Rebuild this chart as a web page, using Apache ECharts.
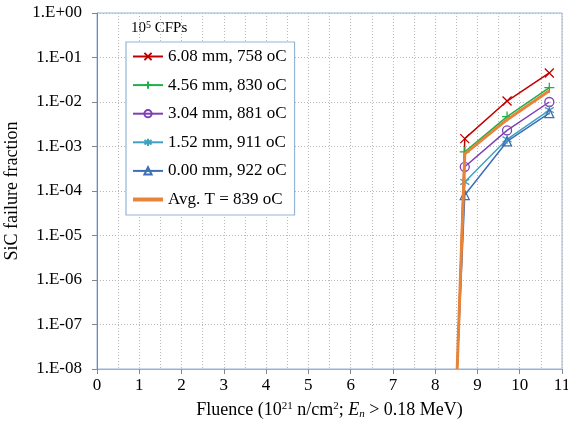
<!DOCTYPE html>
<html>
<head>
<meta charset="utf-8">
<script src="https://cdn.jsdelivr.net/npm/echarts@6/dist/echarts.min.js"></script>
<style>
  html, body { margin: 0; padding: 0; background: #fff; }
  #main { width: 568px; height: 431px; }
</style>
</head>
<body>
<div id="main"></div>
<script>
// fluence values (10^21 n/cm2), first point is where the curves leave the axis
var fluence = [8.52, 8.7, 9.7, 10.7];

var names = ['6.08 mm, 758 oC', '4.56 mm, 830 oC', '3.04 mm, 881 oC',
             '1.52 mm, 911 oC', '0.00 mm, 922 oC', 'Avg. T = 839 oC'];

// failure fractions
var r608 = [1e-8, 1.5e-3, 1.05e-2, 4.5e-2];
var r456 = [1e-8, 7.6e-4, 4.7e-3, 2.1e-2];
var r304 = [1e-8, 3.5e-4, 2.3e-3, 1.0e-2];
var r152 = [1e-8, 1.6e-4, 1.45e-3, 6.6e-3];
var r000 = [1e-8, 8.1e-5, 1.3e-3, 5.6e-3];
var rAvg = [1e-8, 6.8e-4, 4.0e-3, 1.8e-2];

var yTicks = ['1.E-08', '1.E-07', '1.E-06', '1.E-05', '1.E-04', '1.E-03', '1.E-02', '1.E-01', '1.E+00'];

var FONT = '"Liberation Serif", "Times New Roman", serif';

var toData = function(vals) {
    return vals.map(function(v, i) {
        var d = { value: [fluence[i], v] };
        if (i == 0) d.symbol = 'none';
        return d;
    });
}

var mk = function(name, vals, color, symbol, size) {
    return {
        name: name,
        type: 'line',
        data: toData(vals),
        symbol: symbol,
        symbolSize: size,
        showAllSymbol: true,
        lineStyle: { color: color, width: 1.5 },
        itemStyle: { color: 'rgba(0,0,0,0)', borderColor: color, borderWidth: 1.3 },
        emphasis: { disabled: true },
        z: 3
    };
}

var legendData = names.map(function(n, i) {
    if (i == 5) return { name: n, itemStyle: { opacity: 0 }, lineStyle: { width: 4 } };
    return { name: n };
});

var myChart = echarts.init(document.getElementById('main'));

option = {
    animation: false,
    textStyle: { fontFamily: FONT },
    grid: {
        left: 97, right: 6, top: 13, bottom: 62,
        outerBoundsMode: 'none',
        show: true, borderColor: '#95B3D7', borderWidth: 1
    },
    graphic: [{
        type: 'text',
        left: 131, top: 20,
        style: {
            text: '{a|10}{s|5}{a| CFPs}',
            rich: {
                a: { fontFamily: FONT, fontSize: 15, fill: '#000' },
                s: { fontFamily: FONT, fontSize: 10, fill: '#000', verticalAlign: 'top', padding: [0, 0, 6, 0] }
            }
        }
    }],
    legend: {
        orient: 'vertical',
        left: 126, top: 42,
        padding: [6, 8, 7, 5],
        itemWidth: 30, itemHeight: 9, itemGap: 11.6,
        backgroundColor: '#fff',
        borderColor: '#95B3D7', borderWidth: 1.2,
        textStyle: { fontFamily: FONT, fontSize: 17, color: '#000', lineHeight: 17 },
        data: legendData
    },
    xAxis: {
        type: 'value',
        min: 0, max: 11, interval: 1,
        name: '{a|Fluence (10}{s|21}{a| n/cm}{s|2}{a|; }{i|E}{b|n}{a| > 0.18 MeV)}',
        nameLocation: 'middle',
        nameGap: 32,
        nameTextStyle: {
            rich: {
                a: { fontFamily: FONT, fontSize: 18, color: '#000' },
                i: { fontFamily: FONT, fontSize: 18, color: '#000', fontStyle: 'italic' },
                s: { fontFamily: FONT, fontSize: 11, color: '#000', verticalAlign: 'top', padding: [0, 0, 8, 0] },
                b: { fontFamily: FONT, fontSize: 11, color: '#000', fontStyle: 'italic', verticalAlign: 'bottom', padding: [6, 0, 0, 0] }
            }
        },
        axisLine: { show: true, onZero: false, lineStyle: { color: '#95B3D7' } },
        axisTick: { show: true, length: 5, lineStyle: { color: '#868686' } },
        axisLabel: { fontFamily: FONT, fontSize: 17, color: '#000', margin: 8 },
        splitLine: { show: true, lineStyle: { color: '#b8b8b8', type: [1, 2], width: 1 } },
        minorTick: { show: false, splitNumber: 2 },
        minorSplitLine: { show: true, lineStyle: { color: '#b8b8b8', type: [1, 2], width: 1 } }
    },
    yAxis: {
        type: 'log',
        logBase: 10,
        min: 1e-8, max: 1,
        name: 'SiC failure fraction',
        nameLocation: 'middle',
        nameGap: 68,
        nameTextStyle: { fontFamily: FONT, fontSize: 18, color: '#000' },
        axisLine: { show: true, lineStyle: { color: '#868686' } },
        axisTick: { show: true, length: 5, lineStyle: { color: '#868686' } },
        axisLabel: {
            fontFamily: FONT, fontSize: 17, color: '#000', margin: 15,
            formatter: function(v) {
                var e = Math.round(Math.log10(v));
                return yTicks[e + 8];
            }
        },
        splitLine: { show: true, lineStyle: { color: '#b8b8b8', type: [1, 2], width: 1 } }
    },
    series: [
        mk(names[0], r608, '#C00000', 'path://M0,0L10,10M10,0L0,10', 9),
        mk(names[1], r456, '#1FB04B', 'path://M5,0L5,10M0,5L10,5', 10),
        mk(names[2], r304, '#7F3FB5', 'circle', 9),
        mk(names[3], r152, '#3FA2C2', 'path://M5,0L5,10M0,2L10,8M0,8L10,2', 9),
        mk(names[4], r000, '#3D6FB6', 'triangle', 9),
        {
            name: names[5],
            type: 'line',
            data: toData(rAvg),
            symbol: 'none',
            lineStyle: { color: '#E8843A', width: 3 },
            itemStyle: { color: '#E8843A' },
            emphasis: { disabled: true },
            z: 4
        }
    ]
};

myChart.setOption(option);
</script>
</body>
</html>
